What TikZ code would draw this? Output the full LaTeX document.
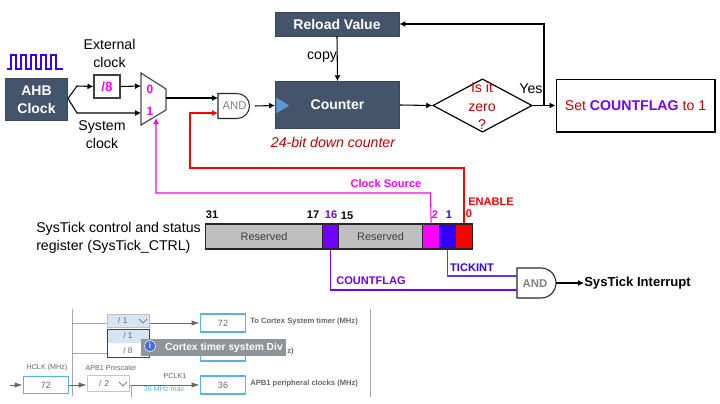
\documentclass[tikz,border=0pt]{standalone}
\usepackage{fontspec}
\setmainfont{Liberation Sans}
\usetikzlibrary{arrows.meta,shapes.geometric,calc}
\definecolor{slate}{HTML}{44546A}
\definecolor{mag}{HTML}{FF00FF}
\definecolor{purp}{HTML}{7000FF}
\definecolor{blu}{HTML}{3300FF}
\definecolor{rd}{HTML}{FF0000}
\definecolor{drd}{HTML}{C00000}
\definecolor{resv}{HTML}{BFBFBF}
\definecolor{sky}{HTML}{55B4E0}
\definecolor{graytxt}{HTML}{666666}
\definecolor{tri}{HTML}{5B9BD5}
\definecolor{hilite}{HTML}{D5E5F3}
\definecolor{tipgray}{HTML}{8E9497}
\tikzset{
  x=0.75pt,y=-0.75pt,
  font=\fontsize{10.6}{12.5}\selectfont,
  dark/.style={draw=slate!85!black,fill=slate,text=white,font=\fontsize{10.5}{13.5}\selectfont\bfseries,inner sep=0pt,line width=0.6pt},
  txt/.style={inner sep=0pt,align=center},
  wire/.style={line width=0.8pt,-{Latex[length=4.5pt,width=4.5pt]}},
  bit/.style={inner sep=0pt,font=\fontsize{8.3}{10}\selectfont\bfseries},
  regcell/.style={draw=black!85,line width=0.9pt,inner sep=0pt,minimum height=18.75pt,anchor=west},
  gbox/.style={draw=sky,line width=1.1pt,fill=white,inner sep=0pt,text=graytxt,font=\fontsize{6.8}{8}\selectfont},
  glbl/.style={inner sep=0pt,text=graytxt,font=\fontsize{5.4}{6.5}\selectfont},
  glblb/.style={inner sep=0pt,text=graytxt,anchor=west,font=\fontsize{5.7}{6.5}\selectfont\bfseries},
  gline/.style={draw=gray!70,line width=0.6pt},
  garrow/.style={draw=gray!80!black,line width=0.6pt,-{Latex[length=6pt,width=4pt]}},
}
\begin{document}
\begin{tikzpicture}
\useasboundingbox (0,0) rectangle (720,403);
% clock wave
\draw[blu,line width=1.1pt] (7,69) -- (11,69) -- (11,55) -- (16,55) -- (16,69) -- (21,69) -- (21,55) -- (26,55) -- (26,69) -- (31,69) -- (31,55) -- (36,55) -- (36,69) -- (41,69) -- (41,55) -- (46,55) -- (46,69) -- (51,69) -- (51,55) -- (56,55) -- (56,69) -- (63,69);
% left blocks
\node[dark,minimum width=46.5pt,minimum height=32pt,align=center] (ahb) at (36.5,99.5) {AHB\\Clock};
\node[draw=black!75,line width=0.8pt,minimum width=19.5pt,minimum height=17.25pt,inner sep=0pt,text=mag,font=\fontsize{10}{12}\selectfont\bfseries] (div) at (107,86.5) {/8};
\node[txt] at (109.5,53) {External\\[1pt]clock};
\node[txt] at (102,135) {System\\[1pt]clock};
% mux
\draw[draw=black!70,line width=0.9pt,fill=white] (141,73) coordinate (muxa) -- (166,89) -- (166,110) -- (141,125) -- cycle;
\coordinate (mux0) at (141,86);
\coordinate (mux1) at (141,113);
\coordinate (muxout) at (166,98);
\coordinate (muxsel) at (156,118);
\node[txt,text=mag,font=\fontsize{9}{10}\selectfont\bfseries] (l0) at (150,89) {0};
\node[txt,text=mag,font=\fontsize{9}{10}\selectfont\bfseries] (l1) at (150,111) {1};
\coordinate (j) at (68,98.5);
\coordinate (ju) at (77,86);
\coordinate (jd) at (77,113);
\draw[wire] (j) -- (ju) -- (div.west);
\draw[wire] (j) -- (jd) -- (mux1);
\draw[wire] (div.east) -- (mux0);
% AND1
\draw[draw=black!85,line width=0.8pt,fill=white] (218,93.5) -- (237,93.5) arc[start angle=-90,end angle=90,radius=12.5] -- (218,118.5) -- cycle;
\node[txt,text=gray,font=\fontsize{8.5}{10}\selectfont] (and1) at (234.5,106) {AND};
\coordinate (and1a) at (218,98);
\coordinate (and1b) at (218,113);
\coordinate (and1o) at (255,106);
\draw[wire] (muxout) -- (and1a);
% counter etc
\node[dark,minimum width=93pt,minimum height=18pt,font=\fontsize{10.5}{13}\selectfont\bfseries] (reload) at (337,24) {Reload Value};
\node[dark,minimum width=93.5pt,minimum height=35pt] (counter) at (337.5,105) {Counter};
\draw[draw=slate,fill=tri] (276,97) -- (290,105.5) -- (276,114) -- cycle;
\coordinate (cin) at (275,105.5);
\draw[wire] (and1o) -- (cin);
\draw[wire] (reload.south) -- (counter.north);
\node[txt] at (322,57) {copy};
\node[txt,text=drd,font=\fontsize{10.6}{12}\selectfont\itshape] at (333,142) {24-bit down counter};
\node[diamond,draw=black,line width=0.9pt,minimum width=74.5pt,minimum height=40pt,inner sep=0pt] (dia) at (482.5,105.5) {};
\node[txt,text=drd] at (482,106) {Is it\\[1.5pt]zero\\[1.5pt]?};
\node[draw=black,line width=1pt,minimum width=119pt,minimum height=39.5pt,inner sep=0pt] (set) at (635.5,105.5) {\textcolor{drd}{Set}~\textcolor{purp}{\bfseries COUNTFLAG}~\textcolor{drd}{to 1}};
\node[txt] at (531,89) {Yes};
\draw[wire] (counter.east) -- (dia.west);
\draw[wire] (dia.east) -- (set.west);
\coordinate (br) at (544,105.5);
\draw[wire] (br) -- (br |- reload.east) -- (reload.east);
% register
\node[regcell,fill=resv,minimum width=87.75pt,text=black!75,font=\fontsize{8.2}{10}\selectfont] (r1) at (205,236.5) {Reserved};
\node[regcell,fill=purp,minimum width=12pt] (r2) at (322,236.5) {};
\node[regcell,fill=resv,minimum width=63pt,text=black!75,font=\fontsize{8.2}{10}\selectfont] (r3) at (338,236.5) {Reserved};
\node[regcell,fill=mag,minimum width=12.75pt] (r4) at (422,236.5) {};
\node[regcell,fill=blu,minimum width=12pt] (r5) at (439,236.5) {};
\node[regcell,fill=rd,minimum width=12.75pt] (r6) at (455,236.5) {};
\node[txt,align=left,anchor=west] at (36,237.5) {SysTick control and status\\[1pt]register (SysTick\_CTRL)};
\node[bit] at (212,215) {31};
\node[bit] at (313,215) {17};
\node[bit,text=purp] at (331,215) {16};
\node[bit] at (347,216) {15};
\node[bit,text=mag] at (435,215) {2};
\node[bit,text=blu] at (449,215) {1};
\node[bit,text=rd] at (469,214) {0};
\node[bit,text=rd,anchor=west] at (468,202) {ENABLE};
\node[bit,text=mag] at (386,184) {Clock Source};
\node[bit,text=blu] at (472,268) {TICKINT};
\node[bit,text=purp] at (371,281) {COUNTFLAG};
% signal lines
\coordinate (rc) at (190,168);
\draw[rd,wire] (r6.north -| 464,0) -- (464,168) -- (rc) -- (rc |- and1b) -- (and1b);
\draw[mag,wire] (r4.north) -- (430.5,193) -- (muxsel |- 0,193) -- (muxsel);
% AND2
\draw[draw=black!85,line width=0.8pt,fill=white] (517,268) -- (541,268) arc[start angle=-90,end angle=90,radius=15] -- (517,298) -- cycle;
\node[txt,text=gray,font=\fontsize{8.5}{10}\selectfont\bfseries] (and2) at (535,284) {AND};
\coordinate (and2a) at (517,276);
\coordinate (and2b) at (517,290);
\coordinate (and2o) at (556,283);
\draw[blu!80,line width=0.9pt] (r5.south) -- (r5.south |- and2a) -- (and2a);
\draw[purp,line width=0.9pt] (r2.south) -- (r2.south |- and2b) -- (and2b);
\node[txt,anchor=west,font=\fontsize{9.8}{11}\selectfont\bfseries] (irq) at (584,283) {SysTick Interrupt};
\draw[line width=0.8pt,-{Latex[length=4.5pt,width=4.5pt]}] (and2o) -- (irq.west);
% CubeMX part
\coordinate (vt) at (72.5,309);
\coordinate (vb) at (72.5,396);
\draw[gline] (vt) -- (vb);
\draw[gline,line width=0.9pt] (370.5,309) -- (370.5,397);
\node[draw=gray!50,line width=0.7pt,fill=hilite,minimum width=32pt,minimum height=10pt,inner sep=0pt,text=graytxt,font=\fontsize{6.2}{8}\selectfont,text width=30pt,align=left] (sel1) at (128.5,321) {\hspace{7pt}/ 1};
\draw[gray,line width=0.6pt] (139,319) -- (143,323) -- (147,319);
\fill[hilite] (107,329) rectangle (149,343);
\node[draw=black!75,line width=0.7pt,minimum width=31.5pt,minimum height=21.5pt,inner sep=0pt] (drop) at (128,343.5) {};
\node[txt,text=graytxt,font=\fontsize{6.2}{8}\selectfont] (o1) at (128,336) {/ 1};
\node[txt,text=graytxt,font=\fontsize{6.2}{8}\selectfont] (o8) at (128,351) {/ 8};
\coordinate (h1) at (72.5,323);
\coordinate (h2) at (72.5,353);
\draw[gline] (h1) -- (107,323);
\draw[gline] (h2) -- (107,353);
% boxes
\node[gbox,minimum width=34pt,minimum height=13.5pt] (b72) at (223,323) {72};
\node[gbox,minimum width=34pt,minimum height=13.5pt] (bmid) at (223,352) {};
\node[gbox,minimum width=34pt,minimum height=13.5pt] (b36) at (223,385) {36};
\draw[garrow] (sel1.east |- b72.west) -- (b72.west);
\node[glblb] at (250,322) {To Cortex System timer (MHz)};
\node[glblb] at (250,384) {APB1 peripheral clocks (MHz)};
\node[glblb] at (287,352) {z)};
% tooltip
\fill[tipgray] (141,339) rectangle (286,356);
\node[inner sep=0pt,anchor=east,text=white,font=\fontsize{7.7}{9}\selectfont\bfseries] (tip) at (283,347.5) {Cortex timer system Div};
\node[circle,fill=tri!70!blue,draw=white,line width=0.4pt,text=white,inner sep=0pt,minimum size=8.5pt,font=\fontsize{6}{6}\selectfont\bfseries] (info) at (150,346) {i};
% bottom row
\node[gbox,minimum width=34pt,minimum height=13pt] (hclk) at (46,385) {72};
\node[glbl] at (47,368) {HCLK (MHz)};
\node[glbl] at (111,368) {APB1 Prescaler};
\node[draw=gray!45,line width=0.7pt,fill=white,minimum width=32pt,minimum height=11.5pt,inner sep=0pt,text=graytxt,font=\fontsize{6.5}{8}\selectfont,text width=30pt,align=left] (pres) at (108.5,383.5) {\hspace{8pt}/ 2};
\draw[gray,line width=0.6pt] (119,382) -- (123,386) -- (127,382);
\coordinate (hin) at (10,385);
\draw[garrow] (hin) -- (hclk.west);
\draw[garrow] (hclk.east) -- (pres.west |- hclk.east);
\draw[garrow] (pres.east |- b36.west) -- (b36.west);
\draw[gline] (131,385) -- (131,397);
\node[glbl] at (175,376) {PCLK1};
\node[glbl,text=sky] at (164,389) {36 MHz max};
\end{tikzpicture}
\end{document}
